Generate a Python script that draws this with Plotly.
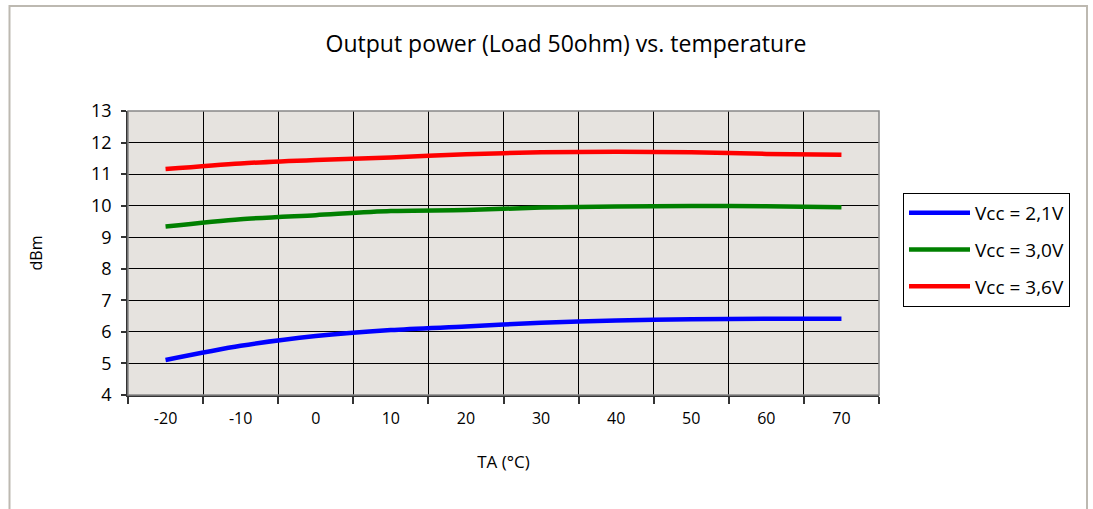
import plotly.graph_objects as go

temps = [-20, -10, 0, 10, 20, 30, 40, 50, 60, 70]
vcc21 = [5.11, 5.56, 5.87, 6.06, 6.17, 6.29, 6.36, 6.40, 6.42, 6.42]
vcc30 = [9.34, 9.57, 9.70, 9.83, 9.86, 9.94, 9.97, 9.99, 9.98, 9.95]
vcc36 = [11.16, 11.34, 11.45, 11.53, 11.63, 11.69, 11.71, 11.69, 11.64, 11.61]
names = ["Vcc = 2,1V", "Vcc = 3,0V", "Vcc = 3,6V"]
colors = ["#0000ff", "#008000", "#ff0000"]
xgrid = [-25, -15, -5, 5, 15, 25, 35, 45, 55, 65, 75]

FONT = "Open Sans"

fig = go.Figure()
for i, (ys, nm, c) in enumerate(zip([vcc21, vcc30, vcc36], names, colors)):
    fig.add_trace(go.Scatter(x=temps, y=ys, name=nm, mode="lines",
                             line=dict(color=c, width=4.5, shape="spline", smoothing=0.8),
                             legendgroup=str(i)))

W, H = 1093, 509
L, R, T, B = 128, 879, 111, 395
pw, ph = R - L, B - T


def px(x):  # x in reference screen pixels
    return (x - L) / pw


def py(y):
    return (B - y) / ph


fig.update_layout(
    width=W, height=H,
    margin=dict(l=L, r=W - R, t=T, b=H - B, autoexpand=False),
    paper_bgcolor="white",
    plot_bgcolor="#e6e3df",
    font=dict(family=FONT, color="#000000", size=16),
    title=dict(text="Output power (Load 50ohm) vs. temperature", x=px(566), xanchor="center",
               xref="paper", y=1 - 44 / H, yanchor="middle",
               font=dict(family=FONT, size=23, color="#000000")),
    xaxis=dict(range=[-25, 75], tickvals=temps, ticktext=[str(t) for t in temps],
               showgrid=False, ticks="", zeroline=False,
               showline=True, linecolor="#333333", linewidth=1.5,
               tickfont=dict(family=FONT, size=16), ticklabelstandoff=8,
               title=dict(text="TA (°C)", font=dict(family=FONT, size=17), standoff=28),
               minor=dict(tickvals=xgrid, showgrid=True, gridcolor="#000000", gridwidth=1,
                          ticks="outside", ticklen=7, tickcolor="#333333", tickwidth=1.5)),
    yaxis=dict(range=[4, 13], dtick=1, tick0=4, showgrid=True, gridcolor="#000000", gridwidth=1,
               zeroline=False, showline=True, linecolor="#333333", linewidth=1.5,
               ticks="outside", ticklen=5, tickcolor="#333333", tickwidth=1.5,
               tickfont=dict(family=FONT, size=18), ticklabelstandoff=6,
               title=dict(text="dBm", font=dict(family=FONT, size=16), standoff=44)),
    legend=dict(x=px(903), y=py(193), xanchor="left", yanchor="top",
                bordercolor="#000000", borderwidth=1, bgcolor="white",
                font=dict(family=FONT, size=19), traceorder="grouped",
                tracegroupgap=9, itemwidth=61),
    showlegend=True,
)

# plot-area border (top/right gray)
fig.add_shape(type="rect", xref="paper", yref="paper", x0=0, x1=1, y0=0, y1=1,
              line=dict(color="#888888", width=1.5), layer="above")
# outer chart frame
fig.add_shape(type="rect", xref="paper", yref="paper",
              x0=px(9.5), x1=px(1087), y0=py(540), y1=py(6),
              line=dict(color="#bdb9b1", width=2), layer="above")

fig.write_html("out.html", config={"displayModeBar": False},
               post_script="document.body.style.margin='0';document.body.style.overflow='hidden';")
